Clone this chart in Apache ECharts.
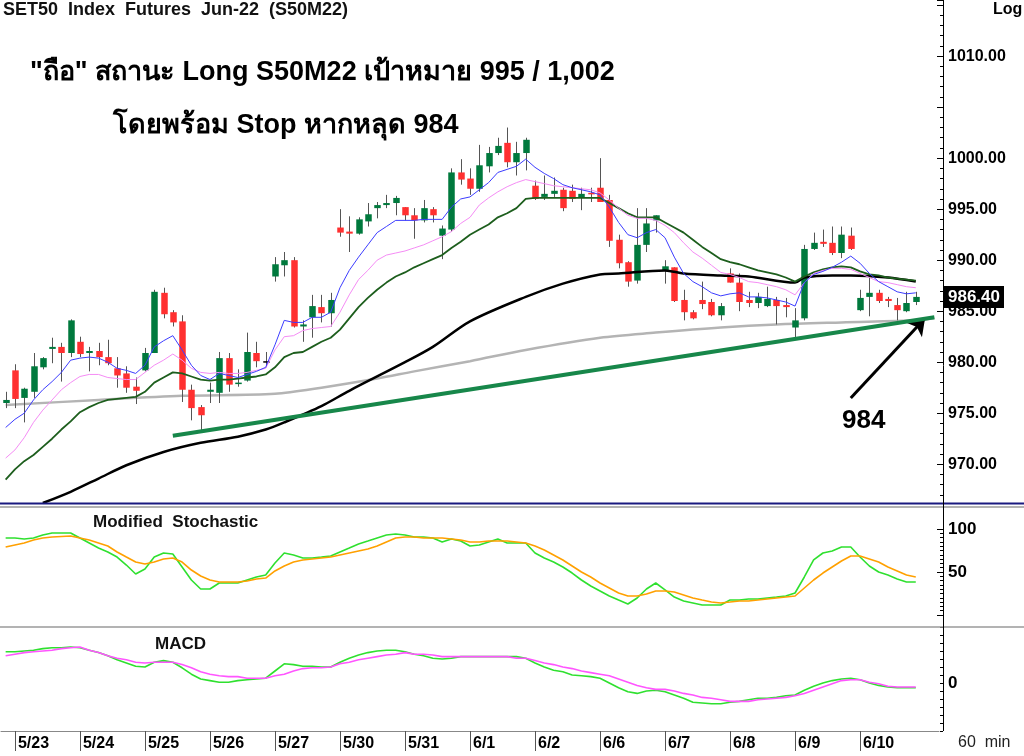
<!DOCTYPE html>
<html>
<head>
<meta charset="UTF-8">
<title>S50M22 60 min</title>
<style>
html, body { margin: 0; padding: 0; background: #fff; }
#chart { width: 1024px; height: 756px; }
</style>
</head>
<body>
<div id="chart"></div>
<script src="https://cdn.jsdelivr.net/npm/echarts@6/dist/echarts.min.js"></script>
<script>
// 60 min bars, 7 per day; first bar is the last one of 5/20
var days = ['5/23', '5/24', '5/25', '5/26', '5/27', '5/30', '5/31', '6/1', '6/2', '6/6', '6/7', '6/8', '6/9', '6/10'];
var barsPerDay = 7;

// [open, close, low, high]
var candles = [
  [976.0, 976.3, 975.5, 977.1],
  [979.2, 976.4, 975.5, 979.8], [976.5, 977.4, 974.1, 977.5], [977.1, 979.6, 976.5, 980.9], [979.5, 980.4, 979.3, 980.5],
  [981.3, 981.5, 979.9, 982.4], [981.5, 980.9, 978.1, 981.9], [980.9, 984.1, 980.5, 984.2],
  [982.0, 980.8, 980.5, 982.5], [980.9, 981.1, 979.1, 981.5], [981.1, 980.5, 979.7, 981.9], [980.5, 979.9, 979.7, 982.2],
  [979.4, 978.7, 977.5, 980.5], [978.9, 977.5, 977.0, 979.6], [977.6, 977.2, 975.9, 978.5],
  [979.2, 980.9, 979.1, 981.4], [980.9, 986.9, 980.9, 987.1], [986.8, 984.7, 984.3, 987.3], [984.9, 983.9, 983.5, 985.1],
  [984.0, 977.3, 976.1, 984.6], [977.3, 975.5, 974.3, 977.8], [975.6, 974.8, 973.2, 975.8],
  [977.1, 977.3, 976.0, 978.0], [977.0, 980.4, 976.0, 981.0], [980.4, 977.8, 977.1, 980.9], [977.9, 978.0, 977.6, 979.3],
  [978.2, 981.0, 978.1, 982.9], [980.9, 980.1, 979.5, 982.0], [980.1, 980.1, 979.5, 981.0],
  [988.4, 989.6, 987.9, 990.3], [989.5, 990.0, 988.4, 990.8], [990.0, 983.5, 983.4, 990.3], [983.5, 983.7, 982.0, 984.1],
  [984.4, 985.5, 982.4, 986.6], [985.4, 984.8, 983.9, 986.6], [984.8, 986.1, 983.5, 986.8],
  [993.2, 992.7, 992.3, 995.0], [992.8, 992.6, 990.8, 994.3], [992.6, 994.0, 992.5, 994.2], [993.8, 994.5, 993.3, 995.6],
  [995.1, 995.4, 994.1, 995.7], [995.4, 995.6, 995.1, 996.4], [995.6, 996.1, 994.4, 996.3],
  [995.2, 994.4, 993.9, 995.2], [994.4, 993.9, 992.1, 995.1], [993.9, 995.1, 993.7, 995.9], [995.0, 994.4, 993.7, 995.2],
  [992.4, 993.1, 990.1, 993.4], [993.0, 998.6, 992.8, 999.0], [998.6, 997.9, 997.4, 999.9],
  [998.0, 997.0, 996.4, 999.0], [997.0, 999.3, 996.7, 1001.3], [999.2, 1000.5, 998.6, 1001.1], [1000.5, 1001.2, 1000.3, 1002.0],
  [1001.5, 999.6, 999.1, 1003.0], [999.6, 1000.5, 998.3, 1001.6], [1000.5, 1001.8, 998.8, 1002.0],
  [997.3, 996.0, 995.9, 997.8], [996.2, 996.5, 995.9, 998.3], [996.5, 996.8, 996.2, 998.1], [996.9, 995.1, 994.8, 997.1],
  [996.8, 996.0, 995.7, 997.4], [996.1, 996.5, 994.9, 997.1], [996.6, 996.5, 995.7, 997.1],
  [997.1, 995.7, 995.7, 1000.0], [995.9, 991.9, 991.3, 996.4], [992.0, 989.7, 989.2, 992.5], [989.8, 987.9, 987.4, 989.9],
  [988.0, 991.5, 987.7, 995.1], [991.5, 993.6, 990.8, 995.1], [993.9, 994.4, 992.7, 994.4],
  [989.0, 989.4, 987.7, 990.0], [989.3, 986.0, 985.9, 989.3], [986.1, 984.9, 984.1, 987.1], [984.9, 984.3, 984.2, 985.1],
  [986.1, 985.7, 985.2, 987.9], [985.9, 984.6, 984.5, 986.2], [984.6, 985.5, 984.1, 985.8],
  [988.7, 987.8, 987.8, 989.2], [987.8, 985.9, 985.0, 988.7], [986.1, 985.8, 985.4, 986.9], [985.8, 986.4, 985.3, 986.8],
  [985.5, 986.2, 985.4, 987.4], [986.1, 985.5, 983.7, 986.4], [985.6, 985.4, 984.4, 986.3],
  [983.4, 984.1, 982.4, 985.3], [984.3, 991.1, 984.1, 991.5], [991.1, 991.7, 991.0, 992.7], [991.8, 991.6, 991.3, 993.0],
  [991.7, 990.7, 990.5, 993.3], [990.7, 992.5, 990.2, 993.3], [992.4, 991.1, 991.0, 993.2],
  [985.1, 986.3, 985.0, 987.1], [986.4, 986.8, 984.5, 988.3], [986.8, 986.0, 985.8, 987.1], [986.2, 986.0, 985.4, 986.4],
  [985.6, 985.1, 984.1, 986.3], [985.0, 985.8, 984.9, 986.9], [985.9, 986.4, 985.6, 986.9]
];

// moving averages
var maBlue = [973.6, 974.4, 975.0, 976.3, 977.3, 978.1, 979.0, 980.2, 980.4, 980.5,
  980.4, 980.0, 979.4, 979.2, 978.9, 979.7, 981.5, 982.1, 982.6, 981.2,
  979.7, 978.7, 978.3, 978.9, 978.7, 978.5, 978.8, 979.1, 979.5, 981.7,
  984.1, 983.9, 983.9, 984.4, 984.4, 984.9, 987.3, 989.0, 990.3, 991.5,
  992.7, 993.3, 993.9, 993.9, 993.9, 994.0, 994.0, 994.0, 995.2, 996.0,
  996.2, 996.9, 997.6, 998.6, 998.9, 999.2, 999.9, 999.1, 998.5, 998.0,
  997.4, 997.1, 996.9, 996.7, 996.4, 995.2, 993.7, 992.5, 992.2, 992.7,
  993.0, 992.2, 990.3, 988.7, 987.9, 987.4, 986.8, 986.5, 986.7, 986.8,
  986.4, 986.4, 986.3, 986.1, 985.9, 985.5, 987.8, 988.6, 988.9, 989.3,
  989.8, 990.4, 989.7, 988.7, 987.9, 987.4, 986.9, 986.7, 986.8];
var maPink = [970.6, 971.4, 972.6, 974.1, 975.3, 976.3, 977.3, 978.0, 978.6, 978.8,
  978.8, 978.5, 978.4, 978.3, 978.3, 979.0, 979.7, 980.2, 980.8, 980.2,
  979.4, 979.0, 978.9, 979.0, 978.9, 978.9, 979.0, 979.2, 979.4, 981.2,
  982.5, 982.6, 983.1, 983.3, 983.4, 983.5, 984.9, 986.6, 988.1, 989.0,
  990.0, 990.5, 990.7, 990.9, 991.2, 991.5, 991.9, 992.3, 992.8, 993.6,
  994.2, 995.4, 996.1, 996.7, 997.2, 997.6, 997.9, 997.7, 997.5, 997.3,
  997.2, 997.1, 997.0, 996.9, 996.6, 995.9, 995.1, 994.4, 994.1, 994.1,
  993.9, 993.4, 992.7, 991.7, 990.8, 990.2, 989.5, 988.8, 988.6, 988.3,
  987.9, 987.8, 987.6, 987.4, 987.1, 986.6, 987.8, 988.7, 989.0, 989.2,
  989.2, 989.1, 988.7, 988.3, 987.9, 987.8, 987.6, 987.4, 987.3];
var maGreen = [968.5, 969.5, 970.3, 970.9, 971.7, 972.5, 973.4, 974.2, 975.1, 975.6,
  976.0, 976.3, 976.4, 976.5, 976.6, 977.1, 978.0, 978.5, 979.0, 978.9,
  978.6, 978.3, 978.2, 978.3, 978.3, 978.4, 978.5, 978.6, 978.8, 979.5,
  980.5, 980.9, 981.0, 981.5, 982.0, 982.4, 983.2, 984.3, 985.4, 986.3,
  987.1, 987.8, 988.4, 988.8, 989.3, 989.7, 990.1, 990.5, 991.2, 991.8,
  992.5, 993.0, 993.5, 994.2, 994.6, 995.1, 996.0, 996.1, 996.1, 996.1,
  996.1, 996.1, 996.1, 996.1, 996.1, 995.6, 995.1, 994.6, 994.2, 994.2,
  994.2, 993.7, 993.2, 992.7, 992.0, 991.3, 990.7, 990.1, 989.8, 989.6,
  989.3, 989.0, 988.8, 988.6, 988.3, 987.9, 988.4, 988.8, 989.1, 989.3,
  989.4, 989.3, 988.9, 988.6, 988.5, 988.3, 988.2, 988.1, 988.0];
// [bar index, value]
var maBlack = [[4, 966.2], [7, 967.3], [10, 968.6], [13, 969.9], [17, 971.2], [21, 972.1], [25, 972.7],
  [28, 973.4], [30, 974.1], [34, 975.7], [37, 977.2], [43, 980.0], [46, 981.5], [50, 984.0],
  [56, 986.4], [60, 987.7], [64, 988.6], [66, 988.7], [71, 989.0], [73, 988.7], [77, 988.5],
  [80, 988.4], [85, 987.8], [86, 988.3], [89, 988.5], [91, 988.5], [95, 988.3], [98, 987.9]];
var maGray = [[0, 975.8], [10, 976.3], [19, 976.7], [29, 976.9], [34, 977.5], [40, 978.4], [44, 979.1],
  [50, 980.1], [56, 981.2], [64, 982.4], [70, 982.9], [77, 983.4], [83, 983.7], [90, 983.9],
  [98, 984.1], [100, 984.3]];
var trendLine = [[18, 972.8], [100, 984.4]];
var arrowFrom = [91, 976.5], arrowTo = [99, 984.3];
var priceLabels = [970, 975, 980, 985, 990, 995, 1000, 1010];

var stochK = [89.5, 89.5, 88.4, 89.5, 93.0, 95.3, 95.3, 95.3,
  89.5, 83.7, 77.9, 73.3, 67.4, 58.1, 47.7,
  53.5, 67.4, 72.1, 70.9, 55.8, 40.7, 30.2,
  30.2, 37.2, 37.2, 37.2, 40.7, 44.2, 46.5,
  60.5, 72.1, 69.8, 66.3, 66.3, 67.4, 68.6,
  73.3, 77.9, 82.6, 86.0, 89.5, 93.0, 94.2,
  93.0, 90.7, 90.7, 89.5, 84.9, 88.4, 86.0,
  80.2, 81.4, 84.9, 88.4, 83.7, 83.7, 83.7,
  72.1, 66.3, 61.6, 55.8, 48.8, 40.7, 33.7,
  27.9, 22.1, 17.4, 12.8, 19.8, 30.2, 37.2,
  29.1, 20.9, 16.3, 14.0, 11.6, 11.6, 11.6,
  17.4, 17.4, 18.6, 18.6, 19.8, 20.9, 22.1,
  25.6, 44.2, 64.0, 72.1, 74.4, 79.1, 79.1,
  67.4, 57.0, 50.0, 46.5, 41.9, 38.4, 38.4];
var stochD = [79.1, 81.4, 83.7, 87.2, 89.5, 90.7, 91.3, 91.9,
  89.5, 87.2, 83.7, 80.2, 73.3, 67.4, 61.6,
  59.3, 61.6, 65.1, 66.3, 61.6, 52.3, 45.3,
  40.7, 38.4, 38.4, 38.4, 39.5, 41.9, 43.0,
  51.2, 57.0, 61.6, 64.0, 65.1, 66.3, 67.4,
  69.8, 72.1, 74.4, 76.7, 80.2, 84.9, 89.5,
  90.7, 90.7, 89.5, 89.5, 89.5, 88.4, 87.2,
  84.9, 84.9, 86.0, 86.0, 86.0, 84.9, 83.7,
  80.2, 75.6, 69.8, 64.0, 57.0, 50.0, 44.2,
  37.2, 31.4, 25.6, 22.1, 22.1, 24.4, 27.9,
  27.9, 26.7, 23.3, 19.8, 17.4, 15.1, 14.0,
  15.1, 16.3, 16.3, 17.4, 18.6, 19.8, 20.9,
  22.1, 31.4, 40.7, 48.8, 55.8, 62.8, 68.6,
  68.6, 65.1, 61.6, 55.8, 51.2, 46.5, 44.2];

var macd = [3.9, 3.9, 4.0, 4.1, 4.3, 4.4, 4.4, 4.5,
  4.4, 4.1, 3.8, 3.4, 2.9, 2.5, 2.1,
  2.0, 2.6, 2.8, 2.6, 1.9, 1.1, 0.5,
  0.3, 0.1, 0.1, 0.3, 0.4, 0.5, 0.6,
  1.5, 2.4, 2.3, 2.1, 2.1, 2.0, 2.0,
  2.6, 3.1, 3.5, 3.8, 4.0, 4.1, 4.1,
  3.9, 3.6, 3.4, 3.1, 3.0, 3.1, 3.3,
  3.3, 3.3, 3.3, 3.3, 3.3, 3.3, 3.1,
  2.5, 2.0, 1.6, 1.4, 1.0, 0.9, 0.8,
  0.6, 0.0, -0.6, -1.1, -1.3, -1.0, -0.9,
  -1.1, -1.5, -1.9, -2.4, -2.5, -2.6, -2.6,
  -2.4, -2.3, -2.1, -1.9, -1.9, -1.8, -1.6,
  -1.5, -0.9, -0.4, 0.0, 0.3, 0.5, 0.6,
  0.4, 0.0, -0.3, -0.5, -0.6, -0.6, -0.6];
var macdSignal = [3.4, 3.6, 3.8, 3.9, 4.0, 4.1, 4.3, 4.4,
  4.5, 4.1, 3.8, 3.4, 3.1, 2.9, 2.6,
  2.5, 2.6, 2.6, 2.6, 2.3, 1.9, 1.4,
  1.1, 0.9, 0.8, 0.8, 0.6, 0.6, 0.6,
  0.9, 1.1, 1.5, 1.8, 1.9, 1.9, 2.0,
  2.4, 2.6, 2.9, 3.1, 3.3, 3.5, 3.6,
  3.8, 3.6, 3.6, 3.5, 3.3, 3.3, 3.3,
  3.3, 3.3, 3.3, 3.3, 3.3, 3.1, 3.1,
  2.8, 2.5, 2.3, 2.0, 1.8, 1.5, 1.3,
  1.1, 0.9, 0.5, 0.1, -0.3, -0.6, -0.8,
  -0.8, -1.0, -1.3, -1.5, -1.8, -1.9, -2.1,
  -2.3, -2.3, -2.3, -2.1, -2.0, -1.9, -1.8,
  -1.6, -1.3, -0.9, -0.5, -0.1, 0.3, 0.4,
  0.4, 0.1, -0.1, -0.4, -0.5, -0.5, -0.5];

// category list: '5/20#6', then day#0..day#6, plus two empty slots on the right
var cats = ['5/20#6'];
days.forEach(function (d) {
    for (var k = 0; k < barsPerDay; k++) cats.push(d + '#' + k);
});
cats.push('', ' ');

var upColor = '#00793d';
var downColor = '#ff3030';
var wickColor = '#555';
var lastClose = candles[candles.length - 1][1];
var fontFam = '"Liberation Sans", Arial, sans-serif';

function isDayStart(idx, val) {
    return typeof val === 'string' && val.indexOf('#0') > 0;
}

function renderCandle(params, api) {
    var x = api.value(0);
    var o = api.value(1), c = api.value(2), lo = api.value(3), hi = api.value(4);
    var pTop = api.coord([x, Math.max(o, c)]);
    var pBot = api.coord([x, Math.min(o, c)]);
    var pHi = api.coord([x, hi]);
    var pLo = api.coord([x, lo]);
    var w = api.size([1, 0])[0] * 0.7;
    var cx = Math.round(pTop[0]) + 0.5;
    var col = c > o ? upColor : (c < o ? downColor : '#000');
    var h = Math.max(pBot[1] - pTop[1], 1.5);
    return {
        type: 'group',
        children: [
            { type: 'line', shape: { x1: cx, y1: pHi[1], x2: cx, y2: pLo[1] }, style: { stroke: wickColor, lineWidth: 1 } },
            { type: 'rect', shape: { x: cx - w / 2, y: pTop[1], width: w, height: h }, style: { fill: col } }
        ]
    };
}

var gridW = 938;
var grids = [
    { left: 1, top: 0, width: gridW, height: 503 },
    { left: 1, top: 529, width: gridW, height: 86 },
    { left: 1, top: 627, width: gridW, height: 104 }
];

function xAx(gi, show) {
    return {
        type: 'category', gridIndex: gi, data: cats, boundaryGap: true,
        axisLine: { show: show, onZero: false, lineStyle: { color: '#888', width: 1 } },
        axisTick: { show: show, alignWithLabel: true, interval: isDayStart, length: 20, lineStyle: { color: '#555' } },
        axisLabel: {
            show: show, interval: isDayStart, align: 'left', margin: 5, padding: [0, 0, 0, 3],
            fontFamily: fontFam, fontWeight: 'bold', fontSize: 16, color: '#000',
            formatter: function (v) { return v.split('#')[0]; }
        },
        splitLine: { show: false }
    };
}

function yLabel(extra) {
    var base = { fontFamily: fontFam, fontWeight: 'bold', fontSize: 16, color: '#000', margin: 5 };
    for (var k in extra) base[k] = extra[k];
    return base;
}

var option = {
    animation: false,
    backgroundColor: '#fff',
    grid: grids,
    xAxis: [xAx(0, false), xAx(1, false), xAx(2, true)],
    yAxis: [
        {
            type: 'value', gridIndex: 0, position: 'right', offset: 4,
            min: 966.2, max: 1015.5, splitNumber: 10,
            axisLine: { show: false },
            axisTick: { show: true, inside: true, length: 6, lineStyle: { color: '#000' } },
            minorTick: { show: true, splitNumber: 5, length: 3, lineStyle: { color: '#000' } },
            splitLine: { show: false },
            axisLabel: yLabel({
                showMinLabel: false, showMaxLabel: false,
                formatter: function (v) {
                    return priceLabels.indexOf(Math.round(v)) >= 0 && Math.abs(v - Math.round(v)) < 0.01 ? v.toFixed(2) : '';
                }
            })
        },
        {
            type: 'value', gridIndex: 1, position: 'right', offset: 4,
            min: 0, max: 100, interval: 50,
            axisLine: { show: false },
            axisTick: { show: true, inside: true, length: 6, lineStyle: { color: '#000' } },
            minorTick: { show: true, splitNumber: 10, length: 3, lineStyle: { color: '#000' } },
            splitLine: { show: false },
            axisLabel: yLabel({ fontSize: 17, formatter: function (v) { return v > 0 ? String(v) : ''; } })
        },
        {
            type: 'value', gridIndex: 2, position: 'right', offset: 4,
            min: -6, max: 7, interval: 1,
            axisLine: { show: false },
            axisTick: { show: true, inside: true, length: 3, lineStyle: { color: '#000' } },
            splitLine: { show: false },
            axisLabel: yLabel({ fontSize: 17, formatter: function (v) { return v === 0 ? '0' : ''; } })
        }
    ],
    graphic: [
        // panel frame lines
        { type: 'rect', shape: { x: 0, y: 502.5, width: 1024, height: 2 }, style: { fill: '#1a1a80' }, z: 50 },
        { type: 'line', shape: { x1: 0, y1: 507, x2: 1024, y2: 507 }, style: { stroke: '#9a9a9a', lineWidth: 1.5 }, z: 50 },
        { type: 'line', shape: { x1: 0, y1: 627, x2: 1024, y2: 627 }, style: { stroke: '#9a9a9a', lineWidth: 1.5 }, z: 50 },
        { type: 'line', shape: { x1: 943.5, y1: 0, x2: 943.5, y2: 731 }, style: { stroke: '#000', lineWidth: 1 }, z: 50 },
        // texts
        { type: 'text', left: 3, top: 1, z: 60, style: { text: 'SET50  Index  Futures  Jun-22  (S50M22)', font: 'bold 18px ' + fontFam, fill: '#111' } },
        { type: 'text', left: 993, top: 2, z: 60, style: { text: 'Log', font: 'bold 16px ' + fontFam, fill: '#000' } },
        { type: 'text', left: 30, top: 59, z: 60, style: { text: '"ถือ" สถานะ Long S50M22 เป้าหมาย 995 / 1,002', font: 'bold 27px ' + fontFam, fill: '#000' } },
        { type: 'text', left: 113, top: 112, z: 60, style: { text: 'โดยพร้อม Stop หากหลุด 984', font: 'bold 27px ' + fontFam, fill: '#000' } },
        { type: 'text', left: 842, top: 408, z: 60, style: { text: '984', font: 'bold 26px ' + fontFam, fill: '#000' } },
        { type: 'text', left: 93, top: 514, z: 60, style: { text: 'Modified  Stochastic', font: 'bold 17px ' + fontFam, fill: '#111' } },
        { type: 'text', left: 155, top: 636, z: 60, style: { text: 'MACD', font: 'bold 17px ' + fontFam, fill: '#111' } },
        { type: 'text', left: 958, top: 735, z: 60, style: { text: '60  min', font: '16px ' + fontFam, fill: '#222' } }
    ],
    series: [
        {
            name: 'ma200', type: 'line', xAxisIndex: 0, yAxisIndex: 0, data: maGray,
            smooth: 0.3, showSymbol: false, lineStyle: { color: '#b4b4b4', width: 2.5 }, z: 2
        },
        {
            name: 'candles', type: 'custom', xAxisIndex: 0, yAxisIndex: 0,
            renderItem: renderCandle,
            encode: { x: 0, y: [1, 2, 3, 4] },
            data: candles.map(function (d, i) { return [i, d[0], d[1], d[2], d[3]]; }),
            z: 3
        },
        {
            name: 'ma75', type: 'line', xAxisIndex: 0, yAxisIndex: 0, data: maBlack,
            smooth: 0.3, showSymbol: false, lineStyle: { color: '#000', width: 2.5 }, z: 4
        },
        {
            name: 'ma20', type: 'line', xAxisIndex: 0, yAxisIndex: 0, data: maGreen,
            showSymbol: false, lineStyle: { color: '#1d5e1d', width: 1.8 }, z: 4
        },
        {
            name: 'ma10', type: 'line', xAxisIndex: 0, yAxisIndex: 0, data: maPink,
            showSymbol: false, lineStyle: { color: '#f58cf5', width: 1 }, z: 4
        },
        {
            name: 'ma5', type: 'line', xAxisIndex: 0, yAxisIndex: 0, data: maBlue,
            showSymbol: false, lineStyle: { color: '#3c3cff', width: 1 }, z: 5
        },
        {
            name: 'last', type: 'line', xAxisIndex: 0, yAxisIndex: 0, data: [],
            z: 60,
            markLine: {
                silent: true, symbol: 'none',
                lineStyle: { color: 'rgba(0,0,0,0)', width: 0 },
                label: {
                    show: true, position: 'end', distance: 5, formatter: lastClose.toFixed(2),
                    backgroundColor: '#000', color: '#fff', padding: [2, 4, 3, 4],
                    fontFamily: fontFam, fontWeight: 'bold', fontSize: 17
                },
                data: [{ yAxis: lastClose }]
            }
        },
        {
            name: 'trend', type: 'line', xAxisIndex: 0, yAxisIndex: 0, data: trendLine,
            showSymbol: false, lineStyle: { color: '#17874a', width: 4 }, z: 6,
            markLine: {
                silent: true, symbol: ['none', 'arrow'], symbolSize: 16,
                lineStyle: { color: '#000', width: 3, type: 'solid' },
                label: { show: false },
                data: [[{ coord: arrowFrom }, { coord: arrowTo }]]
            }
        },
        {
            name: 'K', type: 'line', xAxisIndex: 1, yAxisIndex: 1, data: stochK,
            showSymbol: false, clip: false, lineStyle: { color: '#2fe02f', width: 1.6 }, z: 4
        },
        {
            name: 'D', type: 'line', xAxisIndex: 1, yAxisIndex: 1, data: stochD,
            showSymbol: false, clip: false, lineStyle: { color: '#ffa000', width: 1.6 }, z: 5
        },
        {
            name: 'MACD', type: 'line', xAxisIndex: 2, yAxisIndex: 2, data: macd,
            showSymbol: false, lineStyle: { color: '#2fe02f', width: 1.6 }, z: 4
        },
        {
            name: 'Signal', type: 'line', xAxisIndex: 2, yAxisIndex: 2, data: macdSignal,
            showSymbol: false, lineStyle: { color: '#ff55ff', width: 1.6 }, z: 5
        }
    ]
};

var myChart = echarts.init(document.getElementById('chart'));
myChart.setOption(option);
</script>
</body>
</html>
